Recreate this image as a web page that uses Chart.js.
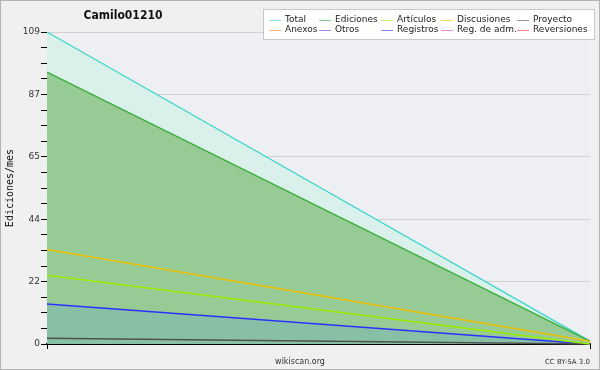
<!DOCTYPE html>
<html>
<head>
<meta charset="utf-8">
<script src="https://cdn.jsdelivr.net/npm/chart.js@4"></script>
<style>
  html, body { margin: 0; padding: 0; background: #f0f0f0; }
  #wrap { width: 600px; height: 370px; position: relative; }
</style>
</head>
<body>
<div id="wrap"><canvas id="myChart" width="600" height="370"></canvas></div>
<script>
const chartTitle = 'Camilo01210';
const periods = ['', ''];
const seriesNames = ['Total', 'Ediciones', 'Artículos', 'Discusiones', 'Proyecto',
                     'Anexos', 'Otros', 'Registros', 'Reg. de adm.', 'Reversiones'];
const total       = [109, 1];
const ediciones   = [95, 1];
const articulos   = [24, 0];
const discusiones = [33, 1];
const proyecto    = [2, 0];
const anexos      = [null, null];
const otros       = [null, null];
const registros   = [14, 0];
const regAdm      = [null, null];
const reversiones = [null, null];
const yMax = 109;
const yTickLabels = ['0', '22', '44', '65', '87', '109'];

document.addEventListener('DOMContentLoaded', function() {
    const ctx = document.getElementById('myChart').getContext('2d');

    const lineColors = ['#3ed6cc', '#3caf3c', '#99ee00', '#f0c000', '#505050',
                        '#ff8030', '#8030e0', '#2f2fff', '#e040e0', '#ff3030'];
    const fills = {0: '#d9f1ea', 1: '#96cb96', 7: '#88c0a6'};
    const orders = {0: 3, 1: 2, 7: 1};
    const values = [total, ediciones, articulos, discusiones, proyecto,
                    anexos, otros, registros, regAdm, reversiones];

    const datasets = seriesNames.map((name, i) => ({
        label: name,
        data: values[i],
        borderColor: lineColors[i],
        borderWidth: i === 0 ? 1.2 : 1.5,
        pointRadius: 0,
        tension: 0,
        fill: fills[i] ? 'origin' : false,
        backgroundColor: fills[i] || 'transparent',
        order: orders[i] || 0,
        clip: 3
    }));

    const nMinor = (yTickLabels.length - 1) * 4;
    const yTicks = [];
    for (let i = 0; i <= nMinor; i++) yTicks.push(yMax * i / nMinor);

    const decor = {
        id: 'decor',
        beforeDraw(chart) {
            const c = chart.ctx, a = chart.chartArea;
            c.save();
            c.fillStyle = '#f0f0f0';
            c.fillRect(0, 0, chart.width, chart.height);
            c.fillStyle = '#eeeff2';
            c.fillRect(a.left, a.top, a.right - a.left, a.bottom - a.top);
            c.restore();
        },
        afterDraw(chart) {
            const c = chart.ctx;
            c.save();
            c.strokeStyle = '#b4b4b4';
            c.lineWidth = 1;
            c.strokeRect(0.5, 0.5, chart.width - 1, chart.height - 1);

            c.fillStyle = '#111';
            c.font = "bold 12px 'DejaVu Sans Condensed', 'DejaVu Sans'";
            c.textAlign = 'center';
            c.textBaseline = 'middle';
            c.fillText(chartTitle, 123, 16);

            // legend
            c.fillStyle = '#ffffff';
            c.fillRect(263.5, 9.5, 331, 30);
            c.strokeStyle = '#c8c8c8';
            c.strokeRect(263.5, 9.5, 331, 30);
            const colX = [285, 335, 397, 457, 533];
            c.font = "9px 'DejaVu Sans'";
            c.textAlign = 'left';
            seriesNames.forEach((name, i) => {
                const x = colX[i % 5], y = i < 5 ? 19.5 : 29.5;
                c.strokeStyle = lineColors[i];
                c.globalAlpha = 0.6;
                c.beginPath();
                c.moveTo(x - 16, Math.round(y) + 0.5);
                c.lineTo(x - 4, Math.round(y) + 0.5);
                c.stroke();
                c.globalAlpha = 1;
                c.fillStyle = '#222';
                c.fillText(name, x, y);
            });

            c.fillStyle = '#333';
            c.font = "8px 'DejaVu Sans'";
            c.textAlign = 'center';
            c.fillText('wikiscan.org', 300, 361.5);
            c.font = "7px 'DejaVu Sans'";
            c.textAlign = 'right';
            c.fillText('CC BY-SA 3.0', 590, 362);
            c.restore();
        }
    };

    new Chart(ctx, {
        type: 'line',
        data: { labels: periods, datasets: datasets },
        options: {
            responsive: false,
            animation: false,
            layout: { padding: { top: 32, right: 10, bottom: 20, left: 0 } },
            plugins: {
                legend: { display: false },
                tooltip: { enabled: false },
                filler: { drawTime: 'beforeDatasetsDraw' }
            },
            scales: {
                x: {
                    offset: false,
                    ticks: { display: false },
                    grid: { drawOnChartArea: false, tickLength: 5, tickColor: '#000' },
                    border: { color: '#000', width: 2 },
                    afterFit(scale) { scale.height = 6; }
                },
                y: {
                    min: 0,
                    max: yMax,
                    afterBuildTicks(scale) {
                        scale.ticks = yTicks.map(v => ({ value: v }));
                    },
                    ticks: {
                        autoSkip: false,
                        padding: 1,
                        color: '#333',
                        font: { family: 'DejaVu Sans', size: 9 },
                        callback: (v, i) => (i % 4 === 0 ? yTickLabels[i / 4] : '')
                    },
                    grid: {
                        tickLength: 6,
                        tickColor: '#000',
                        color: c => (c.index % 4 === 0 ? '#d2d2d2' : 'transparent')
                    },
                    border: { color: '#000', width: 1 },
                    title: {
                        display: true,
                        text: 'Ediciones/mes',
                        color: '#111',
                        padding: { top: 4, bottom: 0 },
                        font: { family: 'DejaVu Sans Mono', size: 10 }
                    },
                    afterFit(scale) { scale.width = 47; }
                }
            }
        },
        plugins: [decor]
    });
});
</script>
</body>
</html>
